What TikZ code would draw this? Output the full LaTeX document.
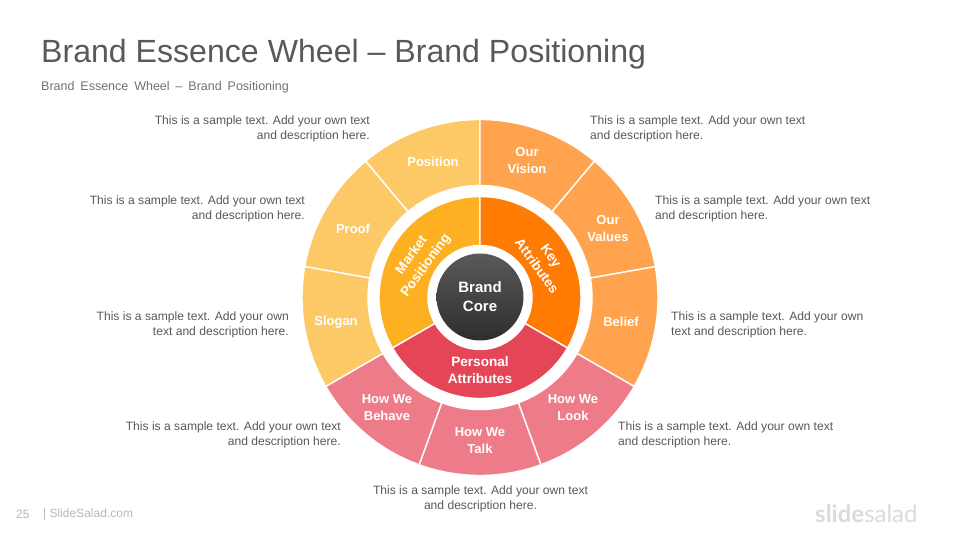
\documentclass[tikz,border=0pt]{standalone}
\usepackage{fontspec}
\setmainfont{Liberation Sans}
\newfontfamily\logofont{Lato}
\definecolor{cYellow}{HTML}{FDC966}
\definecolor{cOrange}{HTML}{FFA34F}
\definecolor{cPink}{HTML}{EE7C88}
\definecolor{cMarket}{HTML}{FDB022}
\definecolor{cKey}{HTML}{FF7B03}
\definecolor{cPersonal}{HTML}{E44658}
\definecolor{cText}{HTML}{595959}
\tikzset{
  desc/.style={text=cText,font=\fontsize{12.1}{15}\selectfont,inner sep=0pt},
  descL/.style={desc,anchor=east,align=right},
  descR/.style={desc,anchor=west,align=left},
  seglabel/.style={text=white,font=\fontsize{13}{17}\selectfont\bfseries,align=center,inner sep=0pt},
  midlabel/.style={text=white,font=\fontsize{13.6}{17.5}\selectfont\bfseries,align=center,inner sep=0pt},
  segline/.style={draw=white,line width=1.4pt},
}
\newcommand{\wheelseg}[5]{%
  \path[fill=#5,segline] (#1:#3) arc[start angle=#1,end angle=#2,radius=#3] -- (#2:#4) arc[start angle=#2,end angle=#1,radius=#4] -- cycle;}
\begin{document}
\begin{tikzpicture}[x=1pt,y=1pt]
\useasboundingbox (0,0) rectangle (960,540);
\fill[white] (0,0) rectangle (960,540);
\node[anchor=west,text=cText,font=\fontsize{32.1}{36}\selectfont,inner sep=0pt] (title) at (41,485.5) {Brand Essence Wheel -- Brand Positioning};
\node[anchor=west,text=cText!85,font=\fontsize{12.5}{15}\selectfont,inner sep=0pt] (subtitle) at (41,452.5) {\spaceskip=5.9pt\relax Brand Essence Wheel -- Brand Positioning};
\begin{scope}[shift={(480,242.5)}]
  \wheelseg{90}{130}{112}{178}{cYellow}
  \wheelseg{130}{170}{112}{178}{cYellow}
  \wheelseg{170}{210}{112}{178}{cYellow}
  \wheelseg{50}{90}{112}{178}{cOrange}
  \wheelseg{10}{50}{112}{178}{cOrange}
  \wheelseg{-30}{10}{112}{178}{cOrange}
  \wheelseg{-70}{-30}{112}{178}{cPink}
  \wheelseg{-110}{-70}{112}{178}{cPink}
  \wheelseg{-150}{-110}{112}{178}{cPink}
  \wheelseg{90}{210}{52}{101}{cMarket}
  \wheelseg{-30}{90}{52}{101}{cKey}
  \wheelseg{-150}{-30}{52}{101}{cPersonal}
  \node[circle,minimum size=87pt,inner sep=0pt,top color=black!65,bottom color=black!82,
        text=white,font=\fontsize{15}{19}\selectfont\bfseries,align=center] (core) at (0,0.5) {Brand\\Core};
\end{scope}
\node[seglabel] (position) at (433,378) {Position};
\node[seglabel] (vision) at (527,379) {Our\\Vision};
\node[seglabel] (proof) at (353,311) {Proof};
\node[seglabel] (values) at (608,311) {Our\\Values};
\node[seglabel] (slogan) at (336,218) {Slogan};
\node[seglabel] (belief) at (621,218) {Belief};
\node[seglabel] (behave) at (387,132) {How We\\Behave};
\node[seglabel] (look) at (573,132) {How We\\Look};
\node[seglabel] (talk) at (480,99) {How We\\Talk};
\node[midlabel] (personal) at (480,170) {Personal\\Attributes};
\node[midlabel,rotate=54] (market) at (419,279.5) {Market\\Positioning};
\node[midlabel,rotate=-54] (key) at (544,279) {Key\\Attributes};
\node[descL] (d1) at (370,411) {This is a sample text. Add your own text\\and description here.};
\node[descL] (d2) at (305,331) {This is a sample text. Add your own text\\and description here.};
\node[descL] (d3) at (289,215) {This is a sample text. Add your own\\text and description here.};
\node[descL] (d4) at (341,105) {This is a sample text. Add your own text\\and description here.};
\node[desc,align=center] (d5) at (480.5,41) {This is a sample text. Add your own text\\and description here.};
\node[descR] (d6) at (590,411) {This is a sample text. Add your own text\\and description here.};
\node[descR] (d7) at (655,331) {This is a sample text. Add your own text\\and description here.};
\node[descR] (d8) at (671,215) {This is a sample text. Add your own\\text and description here.};
\node[descR] (d9) at (618,105) {This is a sample text. Add your own text\\and description here.};
\node[anchor=west,text=black!28,font=\fontsize{12}{15}\selectfont,inner sep=0pt] (page) at (16,26) {25};
\node[anchor=west,text=black!28,font=\fontsize{12}{15}\selectfont,inner sep=0pt] (site) at (43,26) {| SlideSalad.com};
\node[anchor=west,text=black!14,font=\logofont\fontsize{24}{28}\selectfont,inner sep=0pt] (logo) at (815,26) {\textbf{slide}salad};
\end{tikzpicture}
\end{document}
